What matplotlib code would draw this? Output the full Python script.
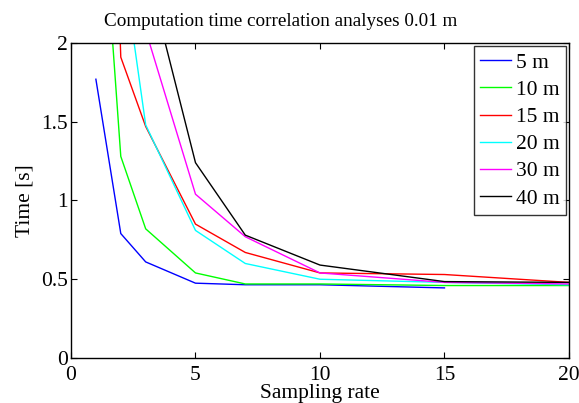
import matplotlib
matplotlib.use('Agg')
import matplotlib.pyplot as plt

plt.rcParams['font.family'] = ['Liberation Serif', 'DejaVu Serif']

# sampling rates
x_5 = [1, 2, 3, 5, 7, 10, 15]
y_5 = [1.77, 0.79, 0.61, 0.475, 0.465, 0.465, 0.445]

x_all = [1, 2, 3, 5, 7, 10, 15, 20]
y_10 = [3.5, 1.28, 0.82, 0.54, 0.47, 0.47, 0.46, 0.46]
y_15 = [6.4, 1.91, 1.47, 0.85, 0.67, 0.54, 0.53, 0.48]
y_20 = [4.0, 2.6, 1.48, 0.81, 0.60, 0.50, 0.48, 0.465]

x_30 = [3, 5, 7, 10, 15, 20]
y_30 = [2.08, 1.04, 0.77, 0.54, 0.48, 0.47]
y_40 = [2.49, 1.24, 0.78, 0.59, 0.485, 0.48]

labels = ['5 m', '10 m', '15 m', '20 m', '30 m', '40 m']
colors = ['#0000ff', '#00ff00', '#ff0000', '#00ffff', '#ff00ff', '#000000']

fig = plt.figure(figsize=(5.79, 4.03), dpi=100)
ax = fig.add_axes([0.1226, 0.1117, 0.8601, 0.7816])

ax.plot(x_5, y_5, color=colors[0], lw=1, label=labels[0])
ax.plot(x_all, y_10, color=colors[1], lw=1, label=labels[1])
ax.plot(x_all, y_15, color=colors[2], lw=1, label=labels[2])
ax.plot(x_all, y_20, color=colors[3], lw=1, label=labels[3])
ax.plot(x_30, y_30, color=colors[4], lw=1, label=labels[4])
ax.plot(x_30, y_40, color=colors[5], lw=1, label=labels[5])

ax.set_xlim(0, 20)
ax.set_ylim(0, 2)
ax.set_xticks([0, 5, 10, 15, 20])
ax.set_yticks([0, 0.5, 1, 1.5, 2])
ax.set_yticklabels(['0', '0.5', '1', '1.5', '2'])
ax.tick_params(direction='in', top=True, right=True, labelsize=15.5, length=4, pad=2)
ax.tick_params(axis='x', pad=6)
for s in ax.spines.values():
    s.set_linewidth(1)

fig.text(0.485, 0.935, 'Computation time correlation analyses 0.01 m', fontsize=13.8,
         ha='center', va='baseline')
ax.set_xlabel('Sampling rate', fontsize=15.5, labelpad=-1)
ax.set_ylabel('Time [s]', fontsize=15.5, labelpad=5)

leg = ax.legend(loc='upper right', fontsize=15.5, frameon=True, fancybox=False,
                edgecolor='black', handlelength=1.45, handletextpad=0.2,
                borderpad=0.3, labelspacing=0.33, borderaxespad=0.15)
leg.get_frame().set_linewidth(1)

fig.savefig('out.png', dpi=100)
